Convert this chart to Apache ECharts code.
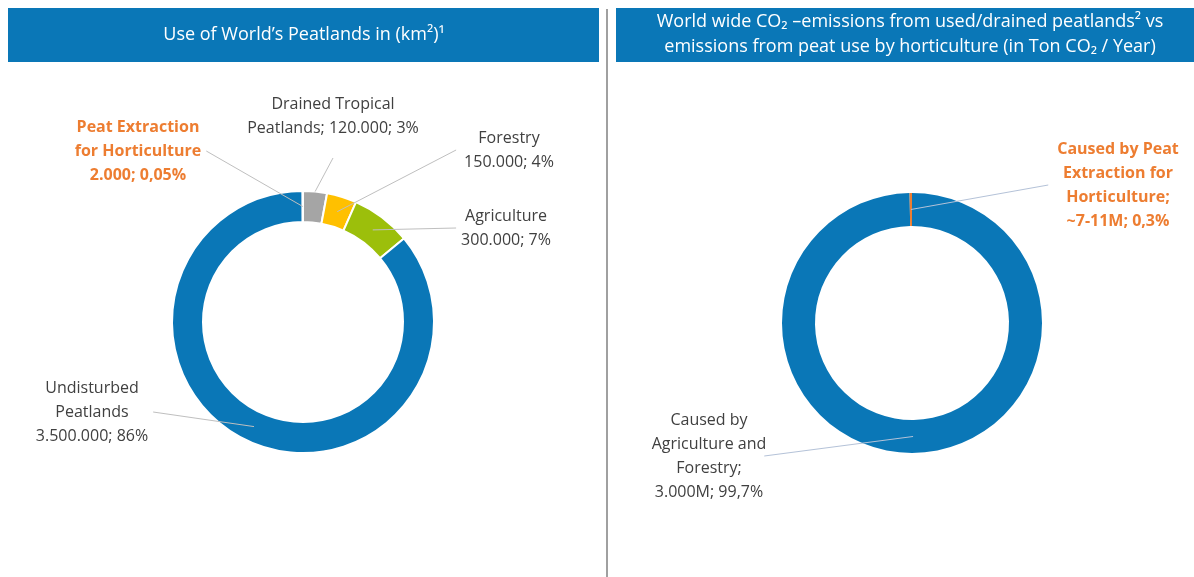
<!DOCTYPE html>
<html>
<head>
<meta charset="utf-8">
<script src="https://cdn.jsdelivr.net/npm/echarts@6/dist/echarts.min.js"></script>
<style>
html,body{margin:0;padding:0;background:#fff;}
#chart{width:1194px;height:577px;}
</style>
</head>
<body>
<div id="chart"></div>
<script>
// ---------- DATA ----------
const leftTitle = "Use of World\u2019s Peatlands in (km\u00B2)\u00B9";
const rightTitle = ["World wide CO\u2082 \u2013emissions from used/drained peatlands\u00B2 vs",
                    "emissions from peat use by horticulture (in Ton CO\u2082 / Year)"];

const leftNames = ["Drained Tropical\nPeatlands", "Forestry", "Agriculture", "Undisturbed\nPeatlands", "Peat Extraction\nfor Horticulture"];
const leftValues = [120000, 150000, 300000, 3500000, 2000];
const leftSep = ["; ", "\n", "\n", "\n", "\n"];

const rightNames = ["Caused by\nAgriculture and\nForestry", "Caused by Peat\nExtraction for\nHorticulture"];
const rightValues = [3000, 9];              // million t CO2 / year
const rightValueText = ["3.000M", "~7-11M"];

// ---------- STYLE / LAYOUT ----------
const BLUE = "#0A77B7", ORANGE = "#ED7D31", DARK = "#404040";
const leftColors = ["#A5A5A5", "#FFC000", "#9CBF0B", BLUE, ORANGE];
const rightColors = [BLUE, ORANGE];
const leftHighlight = [false, false, false, false, true];
const rightHighlight = [false, true];
const FONT = "'Open Sans', 'Noto Sans', sans-serif";
const LABEL_SIZE = 16, LINE_H = 24;

const geo = [
  {c: [303, 322], r: [100, 131], lineColor: "#BFBFBF"},
  {c: [912, 323], r: [97, 130], lineColor: "#B4C2D8"}
];
// label block centres and where the leader line meets them
const labelPos = [
  [{x: 333, y: 116, side: "bottom", gap: 18, from: "outer"},
   {x: 509, y: 150, side: "left", gap: 8},
   {x: 506, y: 228, side: "left", gap: 5},
   {x: 92,  y: 412, side: "right", gap: 5},
   {x: 138, y: 151, side: "right", gap: 5}],
  [{x: 709, y: 456, side: "right", gap: -2},
   {x: 1118, y: 185, side: "left", gap: 9}]
];

function fmtThousands(v) {
  return String(v).replace(/\B(?=(\d{3})+(?!\d))/g, ".");
}
function fmtPct(p, d) {
  return p.toFixed(d).replace(".", ",") + "%";
}
const leftTotal = leftValues.reduce((a, b) => a + b, 0);
const rightTotal = rightValues.reduce((a, b) => a + b, 0);

const leftTexts = leftNames.map((n, i) => {
  const p = leftValues[i] / leftTotal * 100;
  return n + leftSep[i] + fmtThousands(leftValues[i]) + "; " + fmtPct(p, p < 1 ? 2 : 0);
});
const rightTexts = rightNames.map((n, i) => {
  const p = rightValues[i] / rightTotal * 100;
  return n + ";\n" + rightValueText[i] + "; " + fmtPct(p, 1);
});

function buildData(names, values, texts, colors, hl) {
  return names.map((n, i) => ({
    name: n.replace(/\n/g, " "), value: values[i], labelText: texts[i],
    itemStyle: {color: colors[i]},
    label: hl[i] ? {color: ORANGE, fontWeight: "bold"} : {}
  }));
}
const leftData = buildData(leftNames, leftValues, leftTexts, leftColors, leftHighlight);
const rightData = buildData(rightNames, rightValues, rightTexts, rightColors, rightHighlight);

function midAngle(values, idx) {
  const total = values.reduce((a, b) => a + b, 0);
  let cum = 0;
  for (let k = 0; k < idx; k++) cum += values[k];
  return (90 - (cum + values[idx] / 2) / total * 360) * Math.PI / 180;
}

const ctx = document.createElement("canvas").getContext("2d");
function textBox(text, bold) {
  ctx.font = (bold ? "bold " : "") + LABEL_SIZE + "px " + FONT;
  const lines = text.split("\n");
  let w = 0;
  lines.forEach(l => { w = Math.max(w, ctx.measureText(l).width); });
  return {w: w, h: lines.length * LINE_H};
}

function leaderLines(si, values, texts, hl) {
  const g = geo[si];
  return values.map((v, i) => {
    const lp = labelPos[si][i];
    const a = midAngle(values, i);
    const r = lp.from === "outer" ? g.r[1] : (g.r[0] + g.r[1]) / 2;
    const s = [g.c[0] + r * Math.cos(a), g.c[1] - r * Math.sin(a)];
    const b = textBox(texts[i], hl[i]);
    let e;
    if (lp.side === "left") e = [lp.x - b.w / 2 - lp.gap, lp.y];
    else if (lp.side === "right") e = [lp.x + b.w / 2 + lp.gap, lp.y];
    else e = [lp.x, lp.y + b.h / 2 + lp.gap];
    return {type: "line", z: 100, silent: true,
            shape: {x1: s[0], y1: s[1], x2: e[0], y2: e[1]},
            style: {stroke: g.lineColor, lineWidth: 1}};
  });
}

function makeLayout(si) {
  return function (params) {
    const lp = labelPos[si][params.dataIndex];
    return {x: lp.x, y: lp.y, align: "center", verticalAlign: "middle"};
  };
}

function pieSeries(si, data, border) {
  return {
    type: "pie",
    center: geo[si].c,
    radius: geo[si].r,
    startAngle: 90,
    clockwise: true,
    avoidLabelOverlap: false,
    silent: true,
    animation: false,
    emphasis: {disabled: true},
    itemStyle: {borderColor: "#fff", borderWidth: border},
    label: {
      show: true, position: "outside",
      formatter: (p) => p.data.labelText,
      fontFamily: FONT, fontSize: LABEL_SIZE, lineHeight: LINE_H, color: DARK
    },
    labelLine: {show: false},
    labelLayout: makeLayout(si),
    data: data
  };
}

const TITLE_FONT = "18px " + FONT;
const chart = echarts.init(document.getElementById("chart"), null, {renderer: "canvas"});
chart.setOption({
  backgroundColor: "#fff",
  animation: false,
  graphic: [
    {type: "rect", shape: {x: 8, y: 8, width: 591, height: 54}, style: {fill: BLUE}, silent: true},
    {type: "rect", shape: {x: 616, y: 8, width: 578, height: 54}, style: {fill: BLUE}, silent: true},
    {type: "line", shape: {x1: 607, y1: 9, x2: 607, y2: 577}, style: {stroke: "#A0A0A0", lineWidth: 2}, silent: true},
    {type: "text", x: 304, y: 35, silent: true,
     style: {text: leftTitle, fill: "#fff", font: TITLE_FONT, textAlign: "center", textVerticalAlign: "middle"}},
    {type: "text", x: 910, y: 22, silent: true,
     style: {text: rightTitle[0], fill: "#fff", font: TITLE_FONT, textAlign: "center", textVerticalAlign: "middle"}},
    {type: "text", x: 910, y: 47, silent: true,
     style: {text: rightTitle[1], fill: "#fff", font: TITLE_FONT, textAlign: "center", textVerticalAlign: "middle"}}
  ].concat(leaderLines(0, leftValues, leftTexts, leftHighlight))
   .concat(leaderLines(1, rightValues, rightTexts, rightHighlight)),
  series: [
    pieSeries(0, leftData, 2),
    pieSeries(1, rightData, 0)
  ]
});
</script>
</body>
</html>
